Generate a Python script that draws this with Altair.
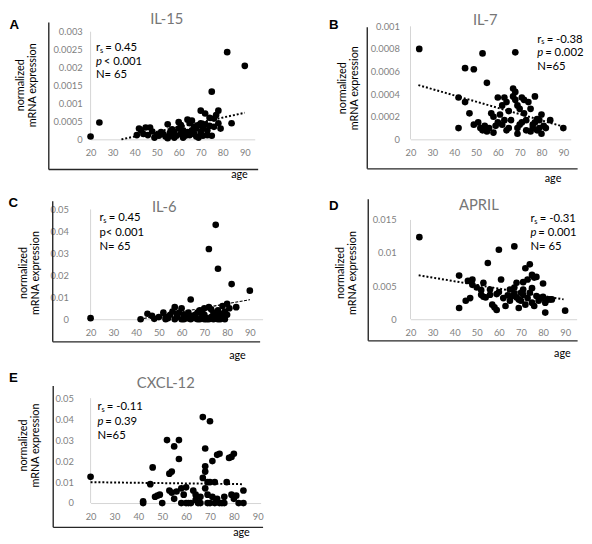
import altair as alt
import pandas as pd

# ---------------- data ----------------
X_TICKS = [20, 30, 40, 50, 60, 70, 80, 90]

A_age = [20, 24, 41, 42, 43, 44, 45, 46, 47, 48, 49, 50, 51, 52, 53, 54, 55, 55, 56, 57,
         57, 58, 58, 59, 60, 60, 61, 61, 62, 62, 63, 64, 64, 65, 65, 66, 66, 67, 67, 68,
         68, 69, 69, 70, 70, 70, 71, 71, 72, 72, 73, 73, 74, 74, 75, 75, 76, 76, 77, 78,
         78, 79, 82, 84, 90]
A_val = [0.00008, 0.00047, 0.00012, 0.0003, 0.00025, 0.00015, 0.00033, 0.00012, 0.00033, 0.00022,
         0.00005, 0.00012, 0.0001, 0.0002, 0.00015, 0.00008, 0.00042, 0.00003, 0.00018, 0.00028,
         0.0001, 0.00005, 0.0002, 0.0001, 0.00048, 0.0003, 0.0004, 0.00015, 0.00005, 0.00025,
         0.0001, 0.00055, 0.0002, 0.00045, 0.00012, 0.00052, 0.00025, 0.00035, 0.00015, 0.0003,
         0.00008, 0.0004, 0.00005, 0.0008, 0.00045, 0.0002, 0.0003, 0.0001, 0.00072, 0.00042,
         0.00025, 0.00012, 0.00038, 0.0006, 0.00133, 0.0001, 0.00058, 0.00035, 0.00068, 0.0008,
         0.00045, 0.0003, 0.00243, 0.00045, 0.00205]
A_trend_age = [34, 90]
A_trend_val = [0.0, 0.00074]

B_age = [24, 53, 68, 45, 49, 55, 42, 45, 42, 47, 49, 51, 52, 53, 54, 56, 57, 58, 58, 60,
         60, 61, 62, 63, 64, 64, 65, 66, 67, 67, 68, 68, 69, 69, 70, 70, 71, 71, 72, 72,
         73, 74, 75, 75, 76, 77, 77, 78, 78, 79, 80, 80, 81, 82, 84, 90, 65, 59, 63, 73,
         76, 69, 62, 55, 79]
B_val = [0.0008, 0.00076, 0.00077, 0.00063, 0.00062, 0.0005, 0.00037, 0.00033, 0.0001, 0.00023,
         0.00013, 0.00015, 0.0001, 0.00008, 0.00012, 0.0001, 0.00023, 0.00006, 0.0002, 0.00015,
         0.00037, 0.00022, 0.00013, 0.00037, 0.00033, 0.00008, 0.0001, 0.00017, 0.00045, 0.00038,
         0.00042, 0.00035, 0.00005, 0.0001, 0.00027, 0.00013, 0.00037, 0.00015, 0.00023, 0.00035,
         0.00017, 0.00033, 0.00027, 0.00007, 0.0001, 0.00038, 0.00015, 0.00008, 0.00018, 0.0001,
         0.00022, 0.00005, 0.00012, 0.0001, 0.00017, 0.0001, 0.00025, 0.00012, 0.00017, 0.00008,
         0.00013, 0.0003, 0.0003, 0.00007, 0.00017]
B_trend_age = [23.6, 90]
B_trend_val = [0.00048, 0.000113]

C_age = [20, 42, 45, 47, 48, 50, 52, 53, 54, 55, 56, 57, 58, 59, 60, 60, 61, 62, 63, 64,
         65, 66, 67, 68, 69, 70, 70, 71, 72, 72, 73, 74, 75, 75, 76, 76, 77, 78, 78, 79,
         80, 80, 81, 82, 84, 90, 57, 64, 66, 68, 71, 73, 74, 77, 79, 53, 58, 61, 63, 69,
         75, 76, 67, 70, 72]
C_val = [0.0005, 0.0, 0.0025, 0.0015, 0.0002, 0.001, 0.003, 0.001, 0.0005, 0.002,
         0.0035, 0.0055, 0.001, 0.003, 0.0, 0.005, 0.002, 0.0005, 0.003, 0.009,
         0.0015, 0.0005, 0.003, 0.0, 0.001, 0.005, 0.002, 0.0005, 0.032, 0.0055,
         0.001, 0.003, 0.043, 0.0005, 0.023, 0.004, 0.0025, 0.006, 0.001, 0.0035,
         0.007, 0.002, 0.005, 0.016, 0.0055, 0.013, 0.0, 0.0, 0.002, 0.004,
         0.0, 0.0045, 0.0, 0.0, 0.0, 0.0, 0.0025, 0.0, 0.0005, 0.003,
         0.002, 0.0, 0.0, 0.0, 0.0]
C_trend_age = [41.5, 90]
C_trend_val = [0.0, 0.0089]

D_age = [24, 60, 67, 55, 72, 74, 75, 76, 77, 42, 46, 48, 45, 42, 47, 48, 50, 52, 53, 52,
         53, 54, 56, 56, 57, 58, 59, 59, 60, 61, 63, 64, 65, 66, 67, 67, 68, 68, 69, 69,
         70, 70, 71, 71, 72, 73, 73, 74, 75, 75, 76, 77, 78, 79, 80, 80, 81, 81, 82, 83,
         84, 90, 65, 62, 71]
D_val = [0.0124, 0.0105, 0.011, 0.0085, 0.0077, 0.0083, 0.0067, 0.0063, 0.0064, 0.0066,
         0.0058, 0.006, 0.0028, 0.0017, 0.0032, 0.0052, 0.0048, 0.0044, 0.0055, 0.0037,
         0.0034, 0.0033, 0.0045, 0.0037, 0.0022, 0.0018, 0.0014, 0.0038, 0.0041, 0.006,
         0.002, 0.0036, 0.0045, 0.0035, 0.0039, 0.0048, 0.0055, 0.0033, 0.003, 0.0017,
         0.004, 0.0028, 0.0056, 0.0037, 0.0022, 0.0032, 0.006, 0.004, 0.0047, 0.0025,
         0.002, 0.0035, 0.0028, 0.0032, 0.0054, 0.0034, 0.001, 0.0025, 0.003, 0.003,
         0.003, 0.0013, 0.0028, 0.0032, 0.0045]
D_trend_age = [23.7, 89.3]
D_trend_val = [0.00664, 0.0030]

E_age = [20, 42, 42, 45, 46, 47, 48, 49, 50, 52, 53, 54, 55, 53, 54, 56, 55, 57, 57, 58,
         58, 59, 60, 60, 61, 62, 63, 64, 64, 65, 67, 70, 68, 67, 68, 68, 69, 70, 71, 72,
         73, 74, 68, 69, 70, 71, 72, 73, 74, 75, 76, 76, 77, 78, 79, 79, 80, 80, 81, 82,
         84, 84, 66, 69, 66]
E_val = [0.0125, 0.0008, 0.0, 0.009, 0.017, 0.003, 0.0035, 0.004, 0.0, 0.03,
         0.014, 0.015, 0.027, 0.006, 0.005, 0.0055, 0.002, 0.03, 0.021, 0.007,
         0.0, 0.004, 0.0075, 0.0, 0.0, 0.0, 0.006, 0.004, 0.0015, 0.0,
         0.041, 0.039, 0.026, 0.012, 0.015, 0.0175, 0.01, 0.01, 0.02, 0.01,
         0.023, 0.0235, 0.007, 0.004, 0.0, 0.003, 0.0, 0.002, 0.0, 0.0,
         0.003, 0.0, 0.01, 0.0215, 0.022, 0.004, 0.0235, 0.002, 0.0035, 0.0,
         0.006, 0.0, 0.0, 0.0, 0.003]
E_trend_age = [20, 84.2]
E_trend_val = [0.00995, 0.0090]

# ---------------- style ----------------
FONT = "Lato"
AX_GRAY = "#d4d4d4"
LAB_GRAY = "#7f7f7f"
FRAME = "#262626"
DUMMY = pd.DataFrame({"d": [0]})


def txt(text, x, y, size=11.5, color="black", align="left", **kw):
    font = kw.pop("font", FONT)
    return alt.Chart(DUMMY).mark_text(
        text=text, align=align, baseline="middle", fontSize=size,
        color=color, font=font, **kw
    ).encode(x=alt.value(x), y=alt.value(y))


PANELS = [
    dict(letter="A", title="IL-15", age=A_age, val=A_val, tage=A_trend_age, tval=A_trend_val,
         W=167, H=115, xdom=[20, 94.5], ydom=[0, 0.0031507],
         yticks=[0, 0.0005, 0.001, 0.0015, 0.002, 0.0025, 0.003], ylp=8.5,
         let=(-77.5, -1), tit=(77.5, -7), ann_x=5.5, ann_y=(22, 36, 50),
         rs="0.45", ptext="< 0.001", pital=True, ntext="N= 65",
         ytit=(-70.5, 60), frame=(-42.5, -4, 145.7, 170.5), agep=(151.5, 151),
         dash=[2, 2], tw=2),
    dict(letter="B", title="IL-7", age=B_age, val=B_val, tage=B_trend_age, tval=B_trend_val,
         W=163, H=115, xdom=[20, 93.4], ydom=[0, 0.001],
         yticks=[0, 0.0002, 0.0004, 0.0006, 0.0008, 0.001], ylp=11.3,
         let=(-78, -1), tit=(76, -6), ann_x=129, ann_y=(13.5, 27.5, 41.5),
         rs="-0.38", ptext="= 0.002", pital=True, ntext="N=65",
         ytit=(-69, 63), frame=(-44, 1, 145, 170), agep=(145, 155),
         dash=[2, 2], tw=2),
    dict(letter="C", title="IL-6", age=C_age, val=C_val, tage=C_trend_age, tval=C_trend_val,
         W=175, H=112, xdom=[20, 95.6], ydom=[0, 0.050134],
         yticks=[0, 0.01, 0.02, 0.03, 0.04, 0.05], ylp=22.5,
         let=(-78.5, -6), tit=(75, -2), ann_x=9, ann_y=(9.5, 24.5, 38.5),
         rs="0.45", ptext="< 0.001", pital=False, ntext="N= 65",
         ytit=(-67.5, 65), frame=(-38.5, -8, 135, 172.5), agep=(149.5, 149),
         dash=[3, 1.5], tw=1.2),
    dict(letter="D", title="APRIL", age=D_age, val=D_val, tage=D_trend_age, tval=D_trend_val,
         W=169, H=112, xdom=[20, 95.2], ydom=[0, 0.016634],
         yticks=[0, 0.005, 0.01, 0.015], ylp=14.7,
         let=(-78, -3.5), tit=(69.5, -4.5), ann_x=122, ann_y=(10.3, 24.5, 38.5),
         rs="-0.31", ptext="= 0.001", pital=True, ntext="N= 65",
         ytit=(-71, 65), frame=(-43, -10, 134, 170), agep=(154.5, 147.5),
         dash=[2, 2], tw=2),
    dict(letter="E", title="CXCL-12", age=E_age, val=E_val, tage=E_trend_age, tval=E_trend_val,
         W=173, H=116, xdom=[20, 91.2], ydom=[0, 0.054358],
         yticks=[0, 0.01, 0.02, 0.03, 0.04, 0.05], ylp=17.5,
         let=(-78.5, -11), tit=(76.5, -6), ann_x=7, ann_y=(18.7, 33.5, 48),
         rs="-0.11", ptext="= 0.39", pital=True, ntext="N=65",
         ytit=(-68, 57.5), frame=(-38, -3, 140.7, 175.5), agep=(153.5, 147),
         dash=[2, 2], tw=2),
]


def panel(p):
    xs = alt.Scale(domain=p["xdom"], nice=False, zero=False)
    ys = alt.Scale(domain=p["ydom"], nice=False, zero=False)
    xaxis = alt.Axis(values=X_TICKS, title=None, grid=False, ticks=False, tickSize=0,
                     domainColor=AX_GRAY, domainWidth=1, labelColor=LAB_GRAY, labelFont=FONT,
                     labelFontSize=9.5, labelPadding=8.5, labelFlush=False, labelOverlap=False)
    yaxis = alt.Axis(values=p["yticks"], format="~g", title=None, grid=False, ticks=False,
                     tickSize=0, domain=False, labelColor=LAB_GRAY, labelFont=FONT,
                     labelFontSize=9.5, labelPadding=p["ylp"], labelFlush=False,
                     labelOverlap=False)
    # gray vertical axis line, drawn from 0 to the top tick (carries the axes)
    yline = alt.Chart(pd.DataFrame({"x0": [20], "lo": [0], "hi": [p["yticks"][-1]]})).mark_rule(
        color=AX_GRAY, strokeWidth=1
    ).encode(x=alt.X("x0:Q", scale=xs, axis=xaxis),
             y=alt.Y("lo:Q", scale=ys, axis=yaxis), y2="hi:Q")
    trend = alt.Chart(pd.DataFrame({"age": p["tage"], "val": p["tval"]})).mark_line(
        color="black", strokeDash=p["dash"], strokeWidth=p["tw"]
    ).encode(x=alt.X("age:Q", scale=xs, axis=xaxis), y=alt.Y("val:Q", scale=ys, axis=yaxis))
    pts = alt.Chart(pd.DataFrame({"age": p["age"], "val": p["val"]})).mark_circle(
        size=46, color="black", opacity=1
    ).encode(x=alt.X("age:Q", scale=xs, axis=xaxis), y=alt.Y("val:Q", scale=ys, axis=yaxis))
    fl, ft, fb, fr = p["frame"]
    fv = alt.Chart(DUMMY).mark_rule(color=FRAME, strokeWidth=1.4).encode(
        x=alt.value(fl), y=alt.value(ft), y2=alt.value(fb))
    fh = alt.Chart(DUMMY).mark_rule(color=FRAME, strokeWidth=1.4).encode(
        x=alt.value(fl), x2=alt.value(fr), y=alt.value(fb))
    ax = p["ann_x"]
    y1, y2, y3 = p["ann_y"]
    texts = [
        txt(p["letter"], p["let"][0], p["let"][1], size=13.5, font="Liberation Sans",
            fontWeight="bold", align="center"),
        txt(p["title"], p["tit"][0], p["tit"][1], size=15, color="#767676", align="center"),
        txt("r", ax, y1),
        txt("s", ax + 4, y1 + 2.8, size=7.5),
        txt("= " + p["rs"], ax + 9.5, y1),
    ]
    if p["pital"]:
        texts += [txt("p", ax, y2, fontStyle="italic"), txt(p["ptext"], ax + 8, y2)]
    else:
        texts += [txt("p" + p["ptext"], ax, y2)]
    texts += [
        txt(p["ntext"], ax, y3),
        txt(["normalized", "mRNA expression"], p["ytit"][0], p["ytit"][1], size=11,
            align="center", angle=270, lineHeight=12.5),
        txt("age", p["agep"][0], p["agep"][1], size=11, align="center"),
    ]
    return alt.layer(yline, trend, pts, fv, fh, *texts).properties(width=p["W"], height=p["H"])


chart = alt.concat(
    *[panel(p) for p in PANELS],
    columns=2,
    spacing={"row": 71, "column": 150.5},
    bounds="flush",
    align="each",
).properties(padding=0).configure_view(stroke=None)

chart.save("out.html", embed_options={"renderer": "svg", "actions": False})
